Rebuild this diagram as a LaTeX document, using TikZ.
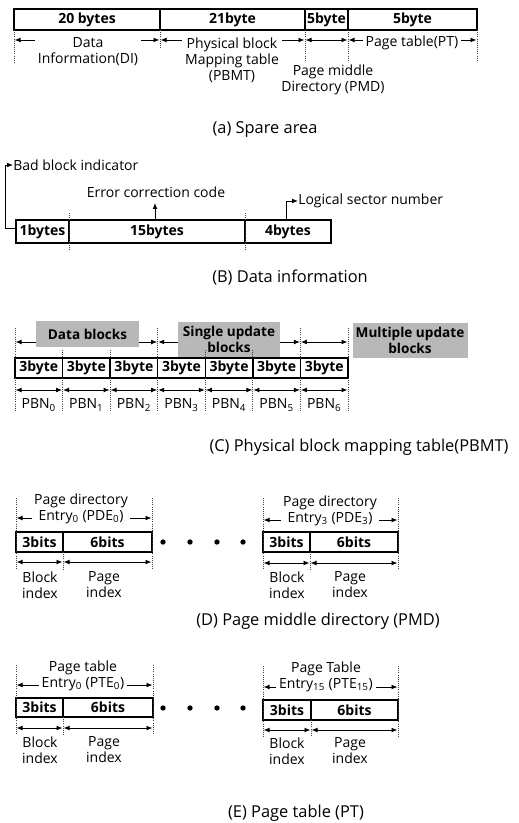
\documentclass[tikz,border=0pt]{standalone}
\usepackage{fontspec}
\setmainfont{Open Sans}
\usetikzlibrary{arrows.meta}
\newcommand\cellnode[6]{\node[boxln, blbl, anchor=north west, minimum width={(#4-#2)*0.75pt}, minimum height={(#5-#3)*0.75pt}, outer sep=0pt] (#1) at (#2,#3) {#6};}
\begin{document}
\begin{tikzpicture}[x=0.75pt,y=-0.75pt,
  lbl/.style={font=\fontsize{10.5}{12}\selectfont, inner sep=0pt, align=center},
  wlbl/.style={lbl, fill=white, inner xsep=2pt, inner ysep=1pt},
  blbl/.style={font=\fontsize{10.5}{12}\selectfont\bfseries, inner sep=0pt},
  captxt/.style={font=\fontsize{12.3}{14}\selectfont, inner sep=0pt},
  boxln/.style={draw=black, line width=1pt},
  guide/.style={densely dotted, line width=0.6pt, black!75},
  dim/.style={{Latex[length=4.5pt,width=3.6pt]}-{Latex[length=4.5pt,width=3.6pt]}, line width=0.65pt},
  tip/.style={-{Latex[length=4.5pt,width=3.6pt]}, line width=0.65pt},
  shade/.style={fill=black!28, font=\fontsize{10.2}{12}\selectfont\bfseries, align=center, inner sep=0pt},
  dot/.style={circle, fill=black, inner sep=0pt, minimum size=4pt}
]
\useasboundingbox (0,0) rectangle (518,823);

% ---------------- (a) Spare area
\cellnode{a1}{14}{9}{160}{30}{20 bytes}
\cellnode{a2}{160}{9}{305}{30}{21byte}
\cellnode{a3}{305}{9}{348}{30}{5byte}
\cellnode{a4}{348}{9}{477}{30}{5byte}
\draw[guide] (a1.south west) -- (14,64);
\draw[guide] (a1.south east) -- (160,48);
\draw[guide] (a3.south west) -- (305,62);
\draw[guide] (a3.south east) -- (348,62);
\draw[guide] (a4.south east) -- (477,62);
\draw[dim] (14.5,40) -- (159.5,40);
\draw[dim] (160.5,40) -- (304.5,40);
\draw[dim] (305.5,40) -- (347.5,40);
\draw[dim] (348.5,40) -- (476.5,40);
\node[wlbl] (di) at (88,52) {Data\\Information(DI)};
\node[wlbl] (pbmt) at (232,60) {Physical block\\Mapping table\\(PBMT)};
\node[lbl] (pmd) at (333,80) {Page middle\\Directory (PMD)};
\node[wlbl] (pt) at (412,43) {Page table(PT)};
\node[captxt] (capa) at (265,130) {(a) Spare area};

% ---------------- (B) Data information
\cellnode{b1}{16}{220}{69}{243}{1bytes}
\cellnode{b2}{69}{220}{245}{243}{15bytes}
\cellnode{b3}{245}{220}{331}{243}{4bytes}
\draw[guide] (69,213) -- (69,250);
\draw[guide] (245,213) -- (245,250);
\node[lbl, anchor=west] (bbi) at (13,165) {Bad block indicator};
\draw[tip] ([yshift=2pt]b1.west) -- ++(-11,0) |- (bbi.west);
\node[lbl] (ecc) at (156,192) {Error correction code};
\draw[tip] (155,220) -- (155,203);
\node[lbl, anchor=west] (lsn) at (298,201) {Logical sector number};
\draw[tip] (286,220) |- (lsn.west);
\node[captxt] (capb) at (290,278) {(B) Data information};

% ---------------- (C) PBMT
\draw[dim] (15.5,342) -- (157.2,342);
\draw[dim] (158.2,342) -- (299.9,342);
\draw[dim] (300.9,342) -- (347.5,342);
\node[shade, minimum width=103*0.75pt, minimum height=26*0.75pt] (db) at (87.5,334) {Data blocks};
\node[shade, minimum width=102*0.75pt, minimum height=35*0.75pt] (sub) at (229,339.5) {Single update\\blocks};
\node[shade, minimum width=115*0.75pt, minimum height=35*0.75pt] (mub) at (410,340.5) {Multiple update\\blocks};
\foreach \i in {0,...,6}{
  \pgfmathsetmacro\xa{15+\i*47.571}
  \pgfmathsetmacro\xb{15+(\i+1)*47.571}
  \pgfmathsetmacro\xm{15+(\i+0.5)*47.571}
  \cellnode{c\i}{\xa}{358}{\xb}{378}{3byte}
  \draw[dim] (\xa+0.5,390) -- (\xb-0.5,390);
  \node[lbl] (pbn\i) at (\xm,405) {PBN\textsubscript{\i}};
}
\foreach \i in {0,...,7}{
  \pgfmathsetmacro\xa{15+\i*47.571}
  \draw[guide] (\xa,378) -- (\xa,411);
}
\foreach \xa in {15,157.71,300.43,348}{
  \draw[guide] (\xa,328) -- (\xa,358);
}
\draw[guide] (62.57,350) -- (62.57,358);
\draw[guide] (110.14,350) -- (110.14,358);
\draw[guide] (205.29,350) -- (205.29,358);
\draw[guide] (252.86,350) -- (252.86,358);
\node[captxt] (capc) at (359,447) {(C) Physical block mapping table(PBMT)};

% ---------------- (D) PMD
\cellnode{d1}{16}{532}{63}{552}{3bits}
\cellnode{d2}{63}{532}{152}{552}{6bits}
\draw[guide] (16,498) -- (16,570);
\draw[guide] (152,498) -- (152,570);
\draw[guide] (63,552) -- (63,570);
\draw[dim] (16.5,518) -- (151.5,518);
\node[wlbl] (pde0) at (81,509) {Page directory\\Entry\textsubscript{0} (PDE\textsubscript{0})};
\draw[dim] (16.5,562) -- (62.5,562);
\draw[dim] (63.5,562) -- (151.5,562);
\node[lbl] (dbi) at (40,585) {Block\\index};
\node[lbl] (dpi) at (104,585) {Page\\index};
\foreach \x [count=\k] in {163,190,217,243}{ \node[dot] (ddot\k) at (\x,542) {}; }

\cellnode{d3}{263}{532}{310}{552}{3bits}
\cellnode{d4}{310}{532}{398}{552}{6bits}
\draw[guide] (263,498) -- (263,570);
\draw[guide] (398,498) -- (398,570);
\draw[guide] (310,552) -- (310,570);
\draw[dim] (263.5,520) -- (397.5,520);
\node[wlbl] (pde3) at (330,511) {Page directory\\Entry\textsubscript{3} (PDE\textsubscript{3})};
\draw[dim] (263.5,563) -- (309.5,563);
\draw[dim] (310.5,563) -- (397.5,563);
\node[lbl] (dbi3) at (287,585) {Block\\index};
\node[lbl] (dpi3) at (350,585) {Page\\index};
\node[captxt] (capd) at (318,621) {(D) Page middle directory (PMD)};

% ---------------- (E) PT
\cellnode{e1}{16}{698}{63}{717}{3bits}
\cellnode{e2}{63}{698}{153}{717}{6bits}
\draw[guide] (16,665) -- (16,735);
\draw[guide] (153,665) -- (153,735);
\draw[guide] (63,717) -- (63,735);
\draw[dim] (16.5,685) -- (152.5,685);
\node[wlbl] (pte0) at (83,676) {Page table\\Entry\textsubscript{0} (PTE\textsubscript{0})};
\draw[dim] (16.5,728) -- (62.5,728);
\draw[dim] (63.5,728) -- (152.5,728);
\node[lbl] (ebi) at (40,750) {Block\\index};
\node[lbl] (epi) at (104,750) {Page\\index};
\foreach \x [count=\k] in {163,190,217,243}{ \node[dot] (edot\k) at (\x,708) {}; }

\cellnode{e3}{263}{700}{311}{720}{3bits}
\cellnode{e4}{311}{700}{398}{720}{6bits}
\draw[guide] (263,666) -- (263,737);
\draw[guide] (398,666) -- (398,737);
\draw[guide] (311,720) -- (311,737);
\draw[dim] (263.5,687) -- (397.5,687);
\node[wlbl] (pte15) at (326,677) {Page Table\\Entry\textsubscript{15} (PTE\textsubscript{15})};
\draw[dim] (263.5,730) -- (310.5,730);
\draw[dim] (311.5,730) -- (397.5,730);
\node[lbl] (ebi15) at (287,751) {Block\\index};
\node[lbl] (epi15) at (350,751) {Page\\index};
\node[captxt] (cape) at (296,813) {(E) Page table (PT)};
\end{tikzpicture}
\end{document}
